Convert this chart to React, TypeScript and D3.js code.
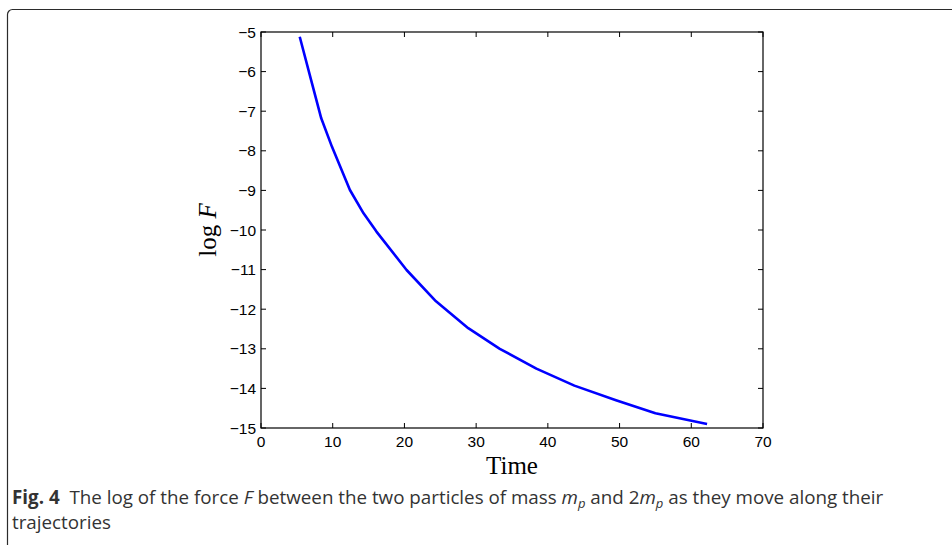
import * as d3 from 'd3';

const timeValues = [5.4, 7.0, 8.4, 9.9, 12.4, 14.3, 16.1, 20.3, 24.4, 28.9, 33.3, 38.4, 43.7, 49.5, 55.0, 62.2];
const logForce = [-5.12, -6.22, -7.18, -7.9, -8.99, -9.58, -10.04, -11.01, -11.8, -12.48, -13.0, -13.5, -13.93, -14.3, -14.63, -14.9];
const xTicks = [0, 10, 20, 30, 40, 50, 60, 70];
const yTicks = [-5, -6, -7, -8, -9, -10, -11, -12, -13, -14, -15];

const W = 952;
const H = 545;
const plot = { left: 261, right: 763, top: 32, bottom: 428 };
const TICK = 5;

const fmt = (v: number) => String(v).replace('-', '\u2212');

export default function App() {
  const x = d3.scaleLinear().domain([0, 70]).range([plot.left, plot.right]);
  const y = d3.scaleLinear().domain([-15, -5]).range([plot.bottom, plot.top]);

  const line = d3.line<number>()
    .x((_, i) => x(timeValues[i]))
    .y((d) => y(d));

  const tickFont = '"Liberation Sans", Arial, sans-serif';
  const capFont = '"Open Sans", "Noto Sans", sans-serif';

  return (
    <svg width={W} height={H} style={{ position: 'absolute', left: 0, top: 0, background: '#fff' }}>
      {/* outer frame */}
      <rect x={7.5} y={9.5} width={W + 20} height={H + 20} rx={5} fill="none" stroke="#2b2b2b" strokeWidth={1.2} />

      {/* axes box */}
      <rect x={plot.left} y={plot.top} width={plot.right - plot.left} height={plot.bottom - plot.top}
        fill="#fff" stroke="#000" strokeWidth={1.2} />

      {xTicks.map((t) => (
        <g key={'x' + t}>
          <line x1={x(t)} x2={x(t)} y1={plot.bottom} y2={plot.bottom - TICK} stroke="#000" />
          <line x1={x(t)} x2={x(t)} y1={plot.top} y2={plot.top + TICK} stroke="#000" />
          <text x={x(t)} y={plot.bottom + 19} textAnchor="middle" fontFamily={tickFont} fontSize={15.5}>{fmt(t)}</text>
        </g>
      ))}
      {yTicks.map((t) => (
        <g key={'y' + t}>
          <line x1={plot.left} x2={plot.left + TICK} y1={y(t)} y2={y(t)} stroke="#000" />
          <line x1={plot.right} x2={plot.right - TICK} y1={y(t)} y2={y(t)} stroke="#000" />
          <text x={plot.left - 5} y={y(t) + 5.5} textAnchor="end" fontFamily={tickFont} fontSize={15.5}>{fmt(t)}</text>
        </g>
      ))}

      <path d={line(logForce) ?? ''} fill="none" stroke="#0000ff" strokeWidth={2.6} strokeLinejoin="round" />

      <text x={(plot.left + plot.right) / 2} y={474} textAnchor="middle"
        fontFamily='"Liberation Serif", serif' fontSize={25}>Time</text>
      <text transform={`translate(216, ${(plot.top + plot.bottom) / 2}) rotate(-90)`} textAnchor="middle"
        fontFamily='"Liberation Serif", serif' fontSize={25} style={{ whiteSpace: 'pre' }}>
        {'log '}<tspan fontStyle="italic">F</tspan>
      </text>

      {/* caption */}
      <text x={12} y={504} fontFamily={capFont} fontSize={18.8} fill="#333" style={{ whiteSpace: 'pre' }}>
        <tspan fontWeight="bold">Fig. 4</tspan>
        <tspan>{'  The log of the force '}</tspan>
        <tspan fontStyle="italic">F</tspan>
        <tspan>{' between the two particles of mass '}</tspan>
        <tspan fontStyle="italic">m</tspan>
        <tspan fontStyle="italic" fontSize={13} dy={4}>p</tspan>
        <tspan dy={-4}>{' and 2'}</tspan>
        <tspan fontStyle="italic">m</tspan>
        <tspan fontStyle="italic" fontSize={13} dy={4}>p</tspan>
        <tspan dy={-4}>{' as they move along their'}</tspan>
      </text>
      <text x={12} y={529} fontFamily={capFont} fontSize={18.8} fill="#333">trajectories</text>
    </svg>
  );
}
